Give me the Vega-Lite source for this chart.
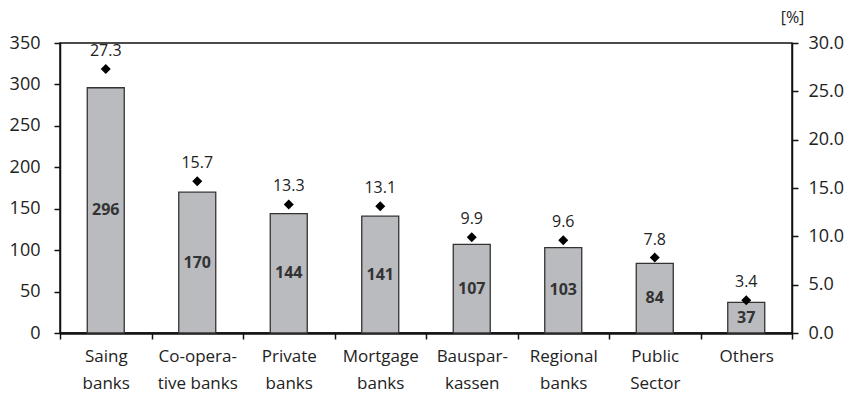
{
  "$schema": "https://vega.github.io/schema/vega-lite/v6.json",
  "autosize": "none",
  "width": 732,
  "height": 290,
  "padding": {"left": 60, "top": 43, "right": 57, "bottom": 64},
  "background": "white",
  "config": {
    "font": "Open Sans",
    "view": {"stroke": "#111", "strokeWidth": 1.5},
    "axis": {"labelFont": "Open Sans", "labelColor": "#222", "domainColor": "#111", "tickColor": "#111", "grid": false}
  },
  "data": {
    "values": [
      {"category": "Saing|banks", "count": 296, "pct": 27.3},
      {"category": "Co-opera-|tive banks", "count": 170, "pct": 15.7},
      {"category": "Private|banks", "count": 144, "pct": 13.3},
      {"category": "Mortgage|banks", "count": 141, "pct": 13.1},
      {"category": "Bauspar-|kassen", "count": 107, "pct": 9.9},
      {"category": "Regional|banks", "count": 103, "pct": 9.6},
      {"category": "Public|Sector", "count": 84, "pct": 7.8},
      {"category": "Others", "count": 37, "pct": 3.4}
    ]
  },
  "encoding": {
    "x": {
      "field": "category", "type": "nominal", "sort": null,
      "scale": {"paddingInner": 0, "paddingOuter": 0},
      "axis": {
        "title": null, "labelAngle": 0, "labelFontSize": 17, "labelLineHeight": 27,
        "labelExpr": "split(datum.label, '|')", "labelPadding": 9,
        "tickBand": "extent", "tickSize": 6, "tickWidth": 1.5, "domainWidth": 2.5
      }
    }
  },
  "layer": [
    {
      "mark": {"type": "bar", "width": 37, "fill": "#b9bbbe", "stroke": "#333", "strokeWidth": 1.3},
      "encoding": {
        "y": {
          "field": "count", "type": "quantitative",
          "scale": {"domain": [0, 350], "nice": false},
          "axis": {"title": null, "values": [0, 50, 100, 150, 200, 250, 300, 350], "labelFontSize": 18, "labelPadding": 14, "tickSize": 6, "tickWidth": 1.5, "domainWidth": 1.5}
        }
      }
    },
    {
      "mark": {"type": "text", "fontSize": 16, "fontWeight": "bold", "color": "#333", "baseline": "middle"},
      "encoding": {
        "y": {"field": "count", "type": "quantitative", "scale": {"domain": [0, 700], "nice": false}, "axis": null},
        "text": {"field": "count", "type": "quantitative"}
      }
    },
    {
      "mark": {"type": "point", "shape": "diamond", "filled": true, "color": "#000", "size": 100, "opacity": 1},
      "encoding": {
        "y": {
          "field": "pct", "type": "quantitative",
          "scale": {"domain": [0, 30], "nice": false},
          "axis": {"orient": "right", "title": "[%]", "titleAngle": 0, "titleX": 0, "titleY": -26, "titleAlign": "center", "titleBaseline": "middle", "titleFontSize": 16, "titleFontWeight": "normal", "titleColor": "#222", "titleFont": "Open Sans", "format": ".1f", "values": [0, 5, 10, 15, 20, 25, 30], "labelFontSize": 18, "labelPadding": 10, "tickSize": 6, "tickWidth": 1.5, "domainWidth": 1.5}
        }
      }
    },
    {
      "mark": {"type": "text", "fontSize": 16, "color": "#222", "baseline": "middle", "dy": -18},
      "encoding": {
        "y": {"field": "pct", "type": "quantitative", "scale": {"domain": [0, 30], "nice": false}, "axis": null},
        "text": {"field": "pct", "type": "quantitative", "format": ".1f"}
      }
    }
  ],
  "resolve": {"scale": {"y": "independent"}, "axis": {"y": "independent"}}
}
